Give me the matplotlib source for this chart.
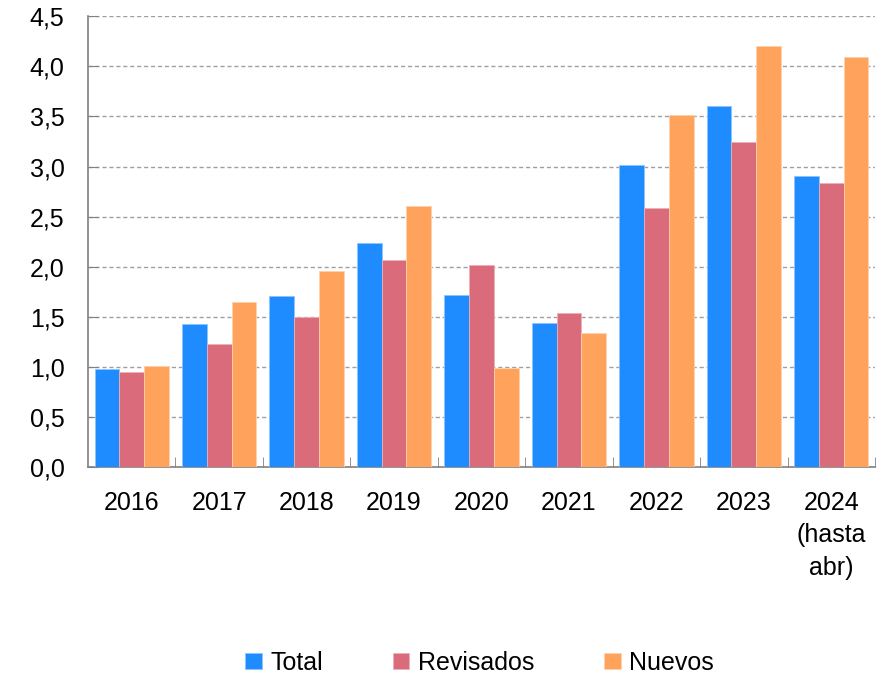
import numpy as np
from matplotlib import pyplot as plt
from matplotlib.ticker import FuncFormatter, FixedLocator

# Datos
years = ['2016', '2017', '2018', '2019', '2020', '2021', '2022', '2023', '2024\n(hasta\nabr)']
total = [0.98, 1.43, 1.71, 2.24, 1.72, 1.44, 3.01, 3.60, 2.91]
revisados = [0.95, 1.23, 1.50, 2.07, 2.02, 1.54, 2.59, 3.24, 2.84]
nuevos = [1.01, 1.65, 1.96, 2.61, 0.99, 1.34, 3.51, 4.20, 4.09]

plt.rcParams['font.family'] = ['Liberation Sans', 'DejaVu Sans']

fig = plt.figure(figsize=(8.87, 6.75), dpi=100)
ax = fig.add_axes([0.0992, 0.308, 0.8873, 0.668])

x = np.arange(len(years))
w = 0.283
ax.bar(x - w, total, w, color='#1E8CFF', edgecolor='#8CC4FF', linewidth=0.6, label='Total', zorder=3)
ax.bar(x, revisados, w, color='#D96B7A', edgecolor='#ECB0B8', linewidth=0.6, label='Revisados', zorder=3)
ax.bar(x + w, nuevos, w, color='#FFA35C', edgecolor='#FFD0AC', linewidth=0.6, label='Nuevos', zorder=3)

ax.set_xlim(-0.5, len(years) - 0.5)
ax.set_ylim(0, 4.5)
ax.set_yticks(np.arange(0, 4.51, 0.5))
ax.yaxis.set_major_formatter(FuncFormatter(lambda v, p: f'{v:.1f}'.replace('.', ',')))
ax.yaxis.grid(True, linestyle=(0, (3, 2)), color='#A0A0A0', linewidth=1, zorder=0)

ax.set_xticks(x)
ax.set_xticklabels(years, fontsize=18, linespacing=1.45, va='top')
ax.tick_params(axis='x', length=0, pad=17)
ax.xaxis.set_minor_locator(FixedLocator(np.arange(0.5, len(years) - 0.4, 1)))
ax.tick_params(axis='x', which='minor', direction='in', length=7, color='#808080')
ax.tick_params(axis='y', direction='in', length=7, color='#808080', labelsize=18, pad=17)

for s in ['top', 'right']:
    ax.spines[s].set_visible(False)
for s in ['left', 'bottom']:
    ax.spines[s].set_color('#808080')
    ax.spines[s].set_linewidth(1.2)

fig.legend(loc='center', bbox_to_anchor=(0.541, 0.018), ncol=3, frameon=False,
           fontsize=18, handlelength=0.65, handleheight=0.65, handletextpad=0.35,
           columnspacing=2.8)

fig.savefig('out.png', dpi=100)
